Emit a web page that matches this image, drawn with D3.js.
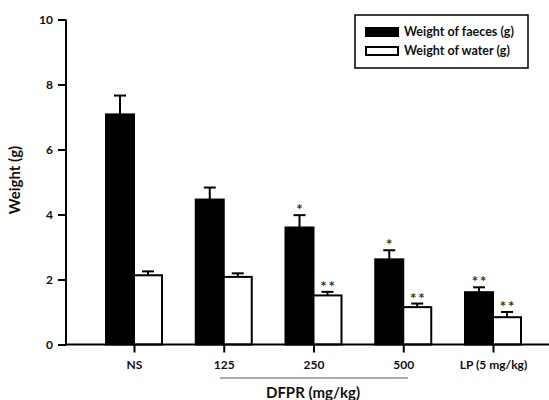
<!DOCTYPE html>
<html>
<head>
<meta charset="utf-8">
<script src="https://d3js.org/d3.v7.min.js"></script>
<style>
  body { margin: 0; background: #fff; }
  svg text { font-family: Lato, "Open Sans", sans-serif; font-weight: bold; fill: #111; }
</style>
</head>
<body>
<script>
const categories = ["NS", "125", "250", "500", "LP (5 mg/kg)"];
const faeces = [7.08, 4.46, 3.6, 2.62, 1.61];
const faecesErr = [0.58, 0.37, 0.38, 0.28, 0.15];
const water = [2.13, 2.08, 1.51, 1.15, 0.84];
const waterErr = [0.12, 0.11, 0.11, 0.11, 0.16];
const faecesStars = ["", "", "*", "*", "**"];
const waterStars = ["", "", "**", "**", "**"];
const yTicks = [0, 2, 4, 6, 8, 10];

const W = 549, H = 400;
const svg = d3.select("body").append("svg").attr("width", W).attr("height", H);

const y = d3.scaleLinear().domain([0, 10]).range([344.5, 19.5]);
const x = d3.scalePoint().domain(categories).range([134, 493]);
const barW = 28;

function drawSeries(vals, errs, stars, dx, fill) {
  vals.forEach((v, i) => {
    const cx = x(categories[i]);
    const left = cx + dx;
    const mid = left + barW / 2;
    const topE = y(v + errs[i]);
    svg.append("line").attr("x1", mid).attr("x2", mid).attr("y1", y(v)).attr("y2", topE)
      .attr("stroke", "#000").attr("stroke-width", 2);
    svg.append("line").attr("x1", mid - 6).attr("x2", mid + 6).attr("y1", topE).attr("y2", topE)
      .attr("stroke", "#000").attr("stroke-width", 2);
    svg.append("rect").attr("x", left).attr("y", y(v)).attr("width", barW).attr("height", y(0) - y(v))
      .attr("fill", fill).attr("stroke", "#000").attr("stroke-width", 2);
    if (stars[i]) {
      svg.append("text").attr("x", mid + 1).attr("y", topE).attr("text-anchor", "middle")
        .style("font-size", "15px").style("letter-spacing", "2px").style("fill", "#333").text(stars[i]);
    }
  });
}
drawSeries(faeces, faecesErr, faecesStars, -barW, "#000");
drawSeries(water, waterErr, waterStars, 0, "#fff");

// y axis
const yAxis = svg.append("g").attr("transform", "translate(66,0)")
  .call(d3.axisLeft(y).tickValues(yTicks).tickSize(8).tickPadding(5).tickFormat(d3.format("d")));
yAxis.select(".domain").attr("stroke-width", 2).attr("d", `M0,${y(10)}V${y(0)}`);
yAxis.selectAll(".tick line").attr("stroke-width", 2);
yAxis.selectAll(".tick text").style("font-size", "12px").style("font-family", "Lato, sans-serif");

// x axis
const xAxis = svg.append("g").attr("transform", `translate(0,${y(0)})`)
  .call(d3.axisBottom(x).tickSize(8).tickPadding(8));
xAxis.select(".domain").attr("stroke-width", 2).attr("d", `M66,0H549`);
xAxis.selectAll(".tick line").attr("stroke-width", 2);
xAxis.selectAll(".tick text").style("font-size", "12px").style("font-family", "Lato, sans-serif");

// y label
svg.append("text").attr("transform", "translate(20,180) rotate(-90)").attr("text-anchor", "middle")
  .style("font-size", "15px").text("Weight (g)");

// DFPR bracket
svg.append("line").attr("x1", 220).attr("x2", 408).attr("y1", 378).attr("y2", 378)
  .attr("stroke", "#555").attr("stroke-width", 1);
svg.append("text").attr("x", 313).attr("y", 398).attr("text-anchor", "middle")
  .style("font-size", "15px").text("DFPR (mg/kg)");

// legend
const lg = svg.append("g");
lg.append("rect").attr("x", 355).attr("y", 15).attr("width", 173).attr("height", 53)
  .attr("fill", "#fff").attr("stroke", "#000").attr("stroke-width", 1.5);
const legendItems = [["Weight of faeces (g)", "#000", 28], ["Weight of water (g)", "#fff", 47]];
legendItems.forEach(([label, fill, ty]) => {
  lg.append("rect").attr("x", 366).attr("y", ty).attr("width", 32).attr("height", 8)
    .attr("fill", fill).attr("stroke", "#000").attr("stroke-width", 2);
  lg.append("text").attr("x", 404).attr("y", ty + 8).style("font-size", "12.5px").text(label);
});
</script>
</body>
</html>
